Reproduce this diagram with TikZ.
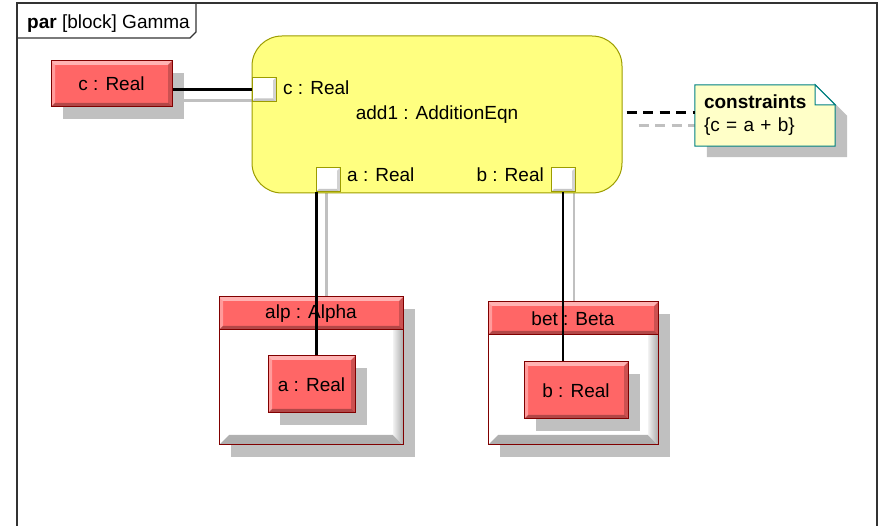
\documentclass[tikz,border=0pt]{standalone}
\usepackage{fontspec}
\setmainfont{Liberation Sans}
\usetikzlibrary{shadows,backgrounds,calc}
\definecolor{redfill}{HTML}{FF6666}
\definecolor{redline}{HTML}{800000}
\definecolor{yelfill}{HTML}{FFFF80}
\definecolor{yelline}{HTML}{9C9C00}
\definecolor{shgray}{HTML}{C0C0C0}
\definecolor{notefill}{HTML}{FFFFC8}
\definecolor{noteline}{HTML}{008080}
\definecolor{framegray}{HTML}{333333}
\tikzset{
  every node/.style={font=\fontsize{19}{23}\selectfont, inner sep=0pt},
  shadowed/.style={drop shadow={shadow xshift=12pt, shadow yshift=-12pt, fill=shgray, opacity=1, draw=none}},
  redbox/.style={rectangle, fill=redfill, draw=redline, line width=1pt,
    path picture={
      \fill[white,opacity=.5] (path picture bounding box.north west) -- (path picture bounding box.north east) -- ([shift={(-4pt,-4pt)}]path picture bounding box.north east) -- ([shift={(4pt,-4pt)}]path picture bounding box.north west) -- cycle;
      \fill[white,opacity=.35] (path picture bounding box.north west) -- ([shift={(4pt,-4pt)}]path picture bounding box.north west) -- ([shift={(4pt,4pt)}]path picture bounding box.south west) -- (path picture bounding box.south west) -- cycle;
      \fill[black,opacity=.3] (path picture bounding box.south west) -- ([shift={(4pt,4pt)}]path picture bounding box.south west) -- ([shift={(-4pt,4pt)}]path picture bounding box.south east) -- (path picture bounding box.south east) -- cycle;
      \fill[black,opacity=.2] (path picture bounding box.south east) -- ([shift={(-4pt,4pt)}]path picture bounding box.south east) -- ([shift={(-4pt,-4pt)}]path picture bounding box.north east) -- (path picture bounding box.north east) -- cycle;
    }},
  framebox/.style={rectangle, fill=white, draw=redline, line width=1pt,
    path picture={
      \shade[top color=gray!10, bottom color=gray!65] (path picture bounding box.south west) -- ([shift={(10pt,10pt)}]path picture bounding box.south west) -- ([shift={(-10pt,10pt)}]path picture bounding box.south east) -- (path picture bounding box.south east) -- cycle;
      \shade[left color=gray!10, right color=gray!65] (path picture bounding box.south east) -- ([shift={(-10pt,10pt)}]path picture bounding box.south east) -- ([shift={(-10pt,-10pt)}]path picture bounding box.north east) -- (path picture bounding box.north east) -- cycle;
    }},
  portbox/.style={rectangle, fill=white, draw=yelline, line width=1pt, minimum width=24pt, minimum height=24pt,
    path picture={
      \fill[gray!45] (path picture bounding box.south west) -- ([shift={(3pt,3pt)}]path picture bounding box.south west) -- ([shift={(-3pt,3pt)}]path picture bounding box.south east) -- (path picture bounding box.south east) -- cycle;
      \fill[gray!35] (path picture bounding box.south east) -- ([shift={(-3pt,3pt)}]path picture bounding box.south east) -- ([shift={(-3pt,-3pt)}]path picture bounding box.north east) -- (path picture bounding box.north east) -- cycle;
    }},
  blockbox/.style={rectangle, rounded corners=30pt, fill=yelfill, draw=yelline, line width=1pt},
  conn/.style={draw=black, line width=2.5pt},
  shconn/.style={draw=shgray, line width=2.5pt},
  dashconn/.style={line width=3pt, dash pattern=on 10pt off 6.5pt},
}
\begin{document}
\begin{tikzpicture}[x=1pt,y=-1pt]
\useasboundingbox (0,0) rectangle (879,526);
% frame
\draw[framegray, line width=1.6pt] (17,526) -- (17,3) -- (877,3) -- (877,526);
\draw[framegray, line width=1.2pt] (17,38) -- (190,38) -- (196,32) -- (196,3);
\node[anchor=west] (title) at (27,24) {\textbf{par} [block] Gamma};

% block and ports
\node[redbox, shadowed, minimum width=121pt, minimum height=46pt] (creal) at (111.5,84) {c : Real};
\node[blockbox, minimum width=370pt, minimum height=157pt] (add1) at (437,114.5) {\raisebox{2pt}{add1 : AdditionEqn}};
\node[portbox] (pc) at (264,89.5) {};
\node[portbox] (pa) at (328,180) {};
\node[portbox] (pb) at (563,180) {};
\node[anchor=west] (lc) at (283,88) {c : Real};
\node[anchor=west] (la) at (347,175) {a : Real};
\node[anchor=east] (lb) at (544,175) {b : Real};

% parts
\node[framebox, shadowed, minimum width=184pt, minimum height=148pt] (alp) at (311,371) {};
\node[redbox, minimum width=184pt, minimum height=33pt, anchor=north] (alph) at (alp.north) {alp : Alpha};
\node[redbox, shadowed, minimum width=87pt, minimum height=57pt] (areal) at (311.5,384.5) {a : Real};
\node[framebox, shadowed, minimum width=170pt, minimum height=143pt] (bet) at (573,373.5) {};
\node[redbox, minimum width=170pt, minimum height=33pt, anchor=north] (beth) at (bet.north) {bet : Beta};
\node[redbox, shadowed, minimum width=104pt, minimum height=57pt] (breal) at (576,390.5) {b : Real};

% note
\node[minimum width=140pt, minimum height=61pt, text width=122pt, align=left, inner xsep=9pt] (note) at (765,115.5) {\textbf{constraints}\\\{c = a + b\}};

% connectors
\coordinate (pa1) at ([xshift=1pt]pa.south west);
\draw[conn] (creal.east |- pc.west) -- (pc.west);
\draw[conn] (pa1) -- (pa1 |- areal.north);
\draw[conn] (pb.south) -- (pb.south |- breal.north);
\coordinate (nb) at ([yshift=2.5pt]note.west);
\draw[dashconn, draw=black] ($(add1.east |- nb)+(4,0)$) -- (nb);

\begin{scope}[on background layer]
  \coordinate (cs1) at ([yshift=-11pt]pc.west);
  \draw[shconn] (cs1 -| creal.east) -- (cs1);
  \coordinate (as1) at ([xshift=11pt]pa.south west);
  \draw[shconn] (as1) -- (as1 |- alp.north);
  \coordinate (bs1) at ([xshift=11pt]pb.south);
  \draw[shconn] (bs1) -- (bs1 |- bet.north);
  \coordinate (ng) at ([yshift=-10.5pt]note.west);
  \draw[dashconn, draw=shgray] ($(add1.east |- ng)+(16,0)$) -- (ng);
  % note shadow and body
  \fill[shgray] ([shift={(12pt,-11pt)}]note.north west) -- ([shift={(-8pt,-11pt)}]note.north east) -- ([shift={(12pt,-31pt)}]note.north east) -- ([shift={(12pt,-11pt)}]note.south east) -- ([shift={(12pt,-11pt)}]note.south west) -- cycle;
  \filldraw[fill=notefill, draw=noteline, line width=1pt] (note.north west) -- ([xshift=-20pt]note.north east) -- ([yshift=-20pt]note.north east) -- (note.south east) -- (note.south west) -- cycle;
  \filldraw[fill=white, draw=noteline, line width=1pt] ([xshift=-20pt]note.north east) -- ([shift={(-20pt,-20pt)}]note.north east) -- ([yshift=-20pt]note.north east) -- cycle;
\end{scope}
\end{tikzpicture}
\end{document}
